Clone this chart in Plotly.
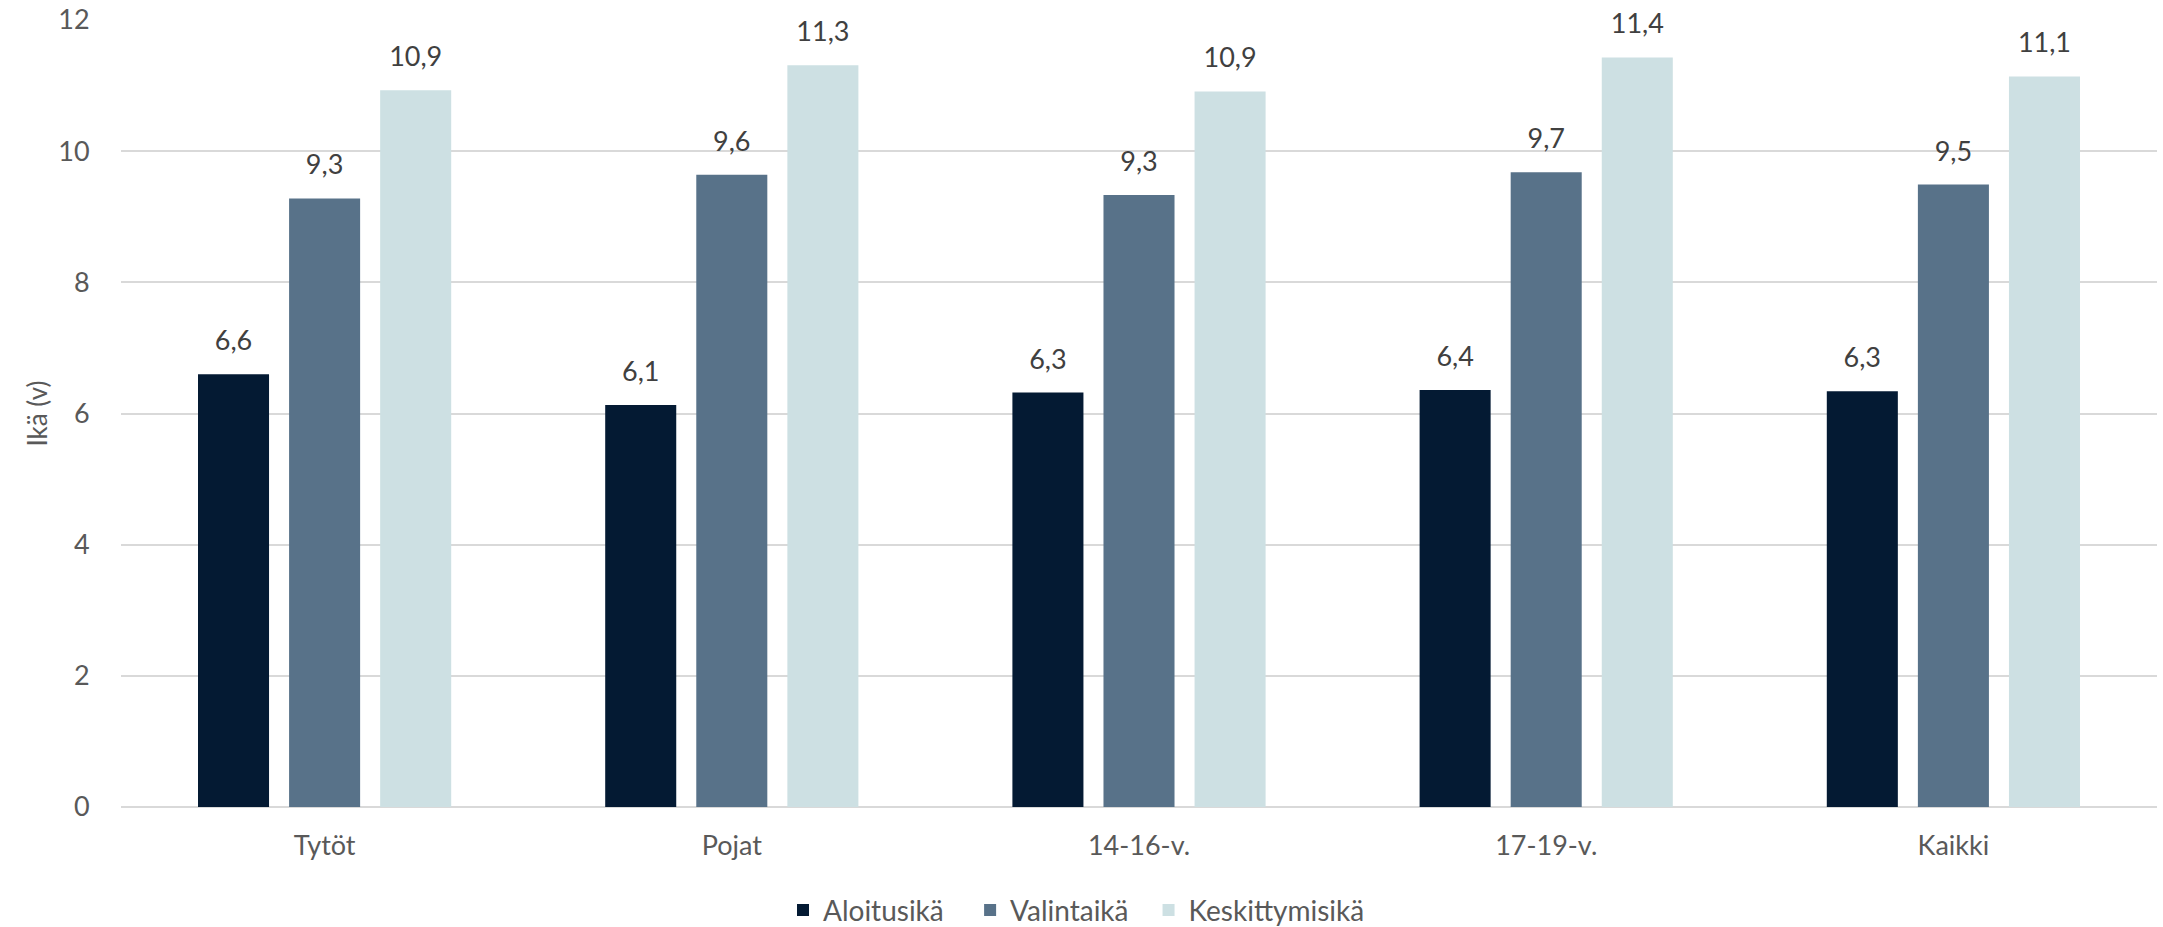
import plotly.graph_objects as go

categories = ["Tytöt", "Pojat", "14-16-v.", "17-19-v.", "Kaikki"]
aloitusika = [6.6, 6.13, 6.32, 6.36, 6.34]
valintaika = [9.28, 9.64, 9.33, 9.68, 9.49]
keskittymisika = [10.93, 11.31, 10.91, 11.43, 11.14]
series_names = ["Aloitusikä", "Valintaikä", "Keskittymisikä"]
colors = ["#041A33", "#587289", "#CDE0E3"]
y_ticks = [0, 2, 4, 6, 8, 10, 12]

FONT = "Lato"
BARGAP = 0.329
LEGEND_IDS = ["legend", "legend2", "legend3"]
LEGEND_X = [0.362, 0.4485, 0.531]

fig = go.Figure()
all_series = [aloitusika, valintaika, keskittymisika]
for name, vals, col, lg in zip(series_names, all_series, colors, LEGEND_IDS):
    fig.add_trace(go.Bar(
        x=categories, y=vals, name=name, legend=lg,
        marker=dict(color=col, line=dict(width=0)),
        offsetgroup=name, alignmentgroup="a",
    ))
# data labels, offset above bars
for name, vals in zip(series_names, all_series):
    fig.add_trace(go.Scatter(
        x=categories, y=vals, mode="markers+text", showlegend=False,
        marker=dict(size=26, opacity=0), hoverinfo="skip",
        text=[f"{v:.1f}".replace(".", ",") for v in vals],
        textposition="top center",
        textfont=dict(family=FONT, size=27, color="#404040"),
        cliponaxis=False, offsetgroup=name, alignmentgroup="a",
    ))

legend_style = {}
for lg, lx in zip(LEGEND_IDS, LEGEND_X):
    legend_style[lg] = dict(orientation="h", xref="container", yref="container",
                            x=lx, xanchor="left", y=0.018, yanchor="middle",
                            font=dict(family=FONT, size=28, color="#595959"),
                            itemwidth=30, bgcolor="rgba(0,0,0,0)")

fig.update_layout(
    width=2163, height=927,
    paper_bgcolor="white", plot_bgcolor="white",
    margin=dict(l=121, r=6, t=20, b=120, autoexpand=False),
    barmode="group", bargap=BARGAP, bargroupgap=0.22,
    scattermode="group", scattergap=BARGAP,
    font=dict(family=FONT, size=26, color="#595959"),
    showlegend=True,
    **legend_style,
)
fig.update_xaxes(showgrid=False, showline=False, ticks="outside", ticklen=15,
                 tickcolor="rgba(0,0,0,0)", tickfont=dict(size=27, color="#595959"))
fig.update_yaxes(range=[0, 12], tickvals=y_ticks, showgrid=True, gridcolor="#D9D9D9",
                 gridwidth=2, zeroline=True, zerolinecolor="#D9D9D9", zerolinewidth=2,
                 showline=False, ticks="outside", ticklen=25, tickcolor="rgba(0,0,0,0)",
                 tickfont=dict(size=27, color="#595959"),
                 title=dict(text="Ikä (v)", font=dict(size=26, color="#595959"), standoff=3))

fig.write_html("out.html")
